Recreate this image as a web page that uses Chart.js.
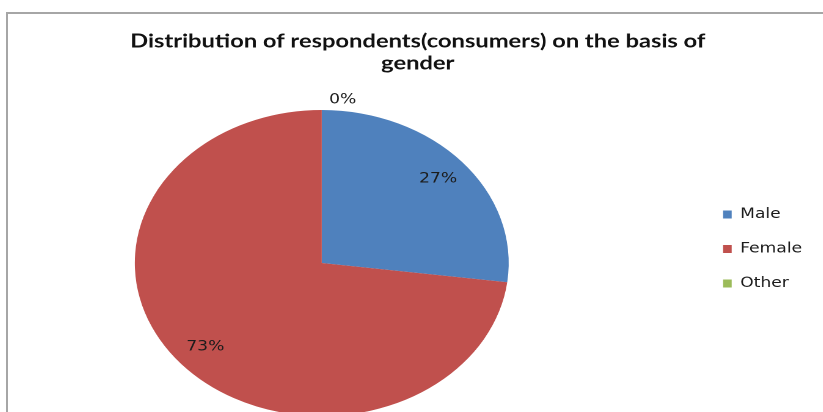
<!DOCTYPE html>
<html>
<head>
<meta charset="utf-8">
<script src="https://cdn.jsdelivr.net/npm/chart.js@4/dist/chart.umd.min.js"></script>
<style>
  html, body { margin: 0; padding: 0; background: #fff; overflow: hidden; width: 823px; height: 412px; }
  #frame { position: absolute; left: 6px; top: 12px; width: 900px; height: 500px;
           border-left: 2px solid #a6a6a6; border-top: 2px solid #a6a6a6; }
  #wrap { position: absolute; left: -57px; top: 0; width: 713px; height: 412px;
          transform: scaleX(1.222); transform-origin: 0 0; }
</style>
</head>
<body>
<div id="frame"></div>
<div id="wrap"><canvas id="c"></canvas></div>
<script>
// ---- data ----
const categories = ['Male', 'Female', 'Other'];
const shares = [27, 73, 0];
const sliceColors = ['#4F81BD', '#C0504D', '#9BBB59'];
const titleLines = ['Distribution of respondents(consumers) on the basis of', 'gender'];

// percentage labels drawn from the arc elements' own geometry
const pieLabels = {
  id: 'pieLabels',
  afterDatasetsDraw(chart) {
    const ctx = chart.ctx;
    const meta = chart.getDatasetMeta(0);
    const data = chart.data.datasets[0].data;
    const total = data.reduce((a, b) => a + b, 0);
    ctx.save();
    ctx.font = '14px "DejaVu Sans"';
    ctx.fillStyle = '#1c1c1c';
    ctx.textBaseline = 'middle';
    meta.data.forEach((arc, i) => {
      const p = arc.getProps(['x', 'y', 'startAngle', 'endAngle', 'outerRadius'], true);
      const txt = Math.round(data[i] / total * 100) + '%';
      const mid = (p.startAngle + p.endAngle) / 2;
      if (data[i] === 0) {
        ctx.textAlign = 'left';
        ctx.fillText(txt, p.x + Math.cos(mid) * (p.outerRadius + 10) + 6, p.y + Math.sin(mid) * (p.outerRadius + 10));
      } else {
        ctx.textAlign = 'center';
        const r = p.outerRadius * 0.83;
        ctx.fillText(txt, p.x + Math.cos(mid) * r, p.y + Math.sin(mid) * r);
      }
    });
    ctx.restore();
  }
};

// Excel centres the title on the whole chart box (including legend); nudge title box accordingly
const titleShift = {
  id: 'titleShift',
  afterLayout(chart) {
    const t = chart.titleBlock;
    if (t) { t.left += 31; t.right += 31; }
  }
};

new Chart(document.getElementById('c'), {
  type: 'pie',
  data: {
    labels: categories,
    datasets: [{
      data: shares,
      backgroundColor: sliceColors,
      borderWidth: 0,
      radius: 153
    }]
  },
  options: {
    responsive: true,
    maintainAspectRatio: false,
    animation: false,
    devicePixelRatio: 2,
    layout: { padding: { top: 0, left: 2, right: 0, bottom: 73 } },
    plugins: {
      title: {
        display: true,
        text: titleLines,
        color: '#111',
        font: { family: 'Lato', weight: 'bold', size: 19.4, lineHeight: 1.14 },
        padding: { top: 30, bottom: 112.8 }
      },
      legend: {
        position: 'right',
        align: 'start',
        fullSize: false,
        labels: {
          boxWidth: 7,
          boxHeight: 8,
          padding: 20.5,
          color: '#1c1c1c',
          font: { family: 'DejaVu Sans', size: 14 }
        }
      },
      tooltip: { enabled: false }
    }
  },
  plugins: [pieLabels, titleShift]
});
</script>
</body>
</html>
